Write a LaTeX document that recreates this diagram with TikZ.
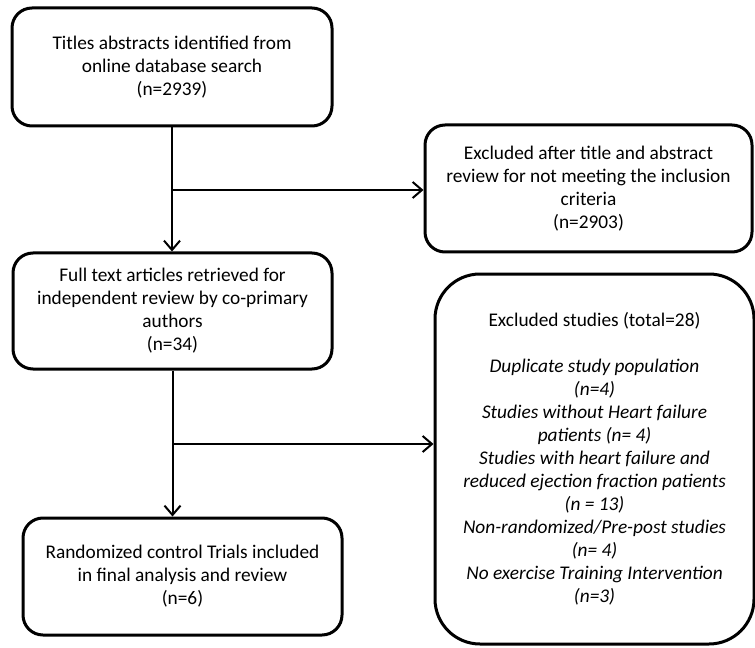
\documentclass[tikz,border=0pt]{standalone}
\usepackage{fontspec}
\setmainfont{Carlito}
\usepackage{tikz}
\usetikzlibrary{arrows.meta}

\tikzset{
  box/.style={draw,line width=2.25pt,rounded corners=15pt,align=center,inner sep=0pt,
    font=\fontsize{14.5}{17.25}\selectfont},
  link/.style={line width=1.5pt,-{Straight Barb[length=7pt,width=12pt]}}
}

\begin{document}
\begin{tikzpicture}[x=0.75pt,y=-0.75pt]
    \useasboundingbox (0,0) rectangle (755,648);

    \node[box,minimum width=240pt,minimum height=88.5pt] (1) at (172,67)
      {Titles abstracts identified from\\online database search\\(n=2939)};
    \node[box,minimum width=245.25pt,minimum height=95.25pt] (2) at (588.5,188.5)
      {Excluded after title and abstract\\review for not meeting the inclusion\\criteria\\(n=2903)};
    \node[box,minimum width=239.25pt,minimum height=87pt] (3) at (172.5,311)
      {Full text articles retrieved for\\independent review by co-primary\\authors\\(n=34)};
    \node[box,rounded corners=33.75pt,minimum width=239.25pt,minimum height=277.5pt] (4) at (594.5,459)
      {Excluded studies (total=28)\\[17.25pt]
       \itshape Duplicate study population\\\itshape (n=4)\\
       \itshape Studies without Heart failure\\\itshape patients (n= 4)\\
       \itshape Studies with heart failure and\\\itshape reduced ejection fraction patients\\\itshape (n = 13)\\
       \itshape Non-randomized/Pre-post studies\\\itshape (n= 4)\\
       \itshape No exercise Training Intervention\\\itshape (n=3)};
    \node[box,minimum width=239.25pt,minimum height=87.75pt] (5) at (182.5,576.5)
      {Randomized control Trials included\\in final analysis and review\\(n=6)};

    \coordinate (a) at (172,190);
    \coordinate (b) at (172,444);

    \draw[link] (1.south) -- (1.south |- 3.north);
    \draw[link] (a) -- (a -| 2.west);
    \draw[link] (3.south) -- (3.south |- 5.north);
    \draw[link] (b) -- (b -| 4.west);
\end{tikzpicture}
\end{document}
